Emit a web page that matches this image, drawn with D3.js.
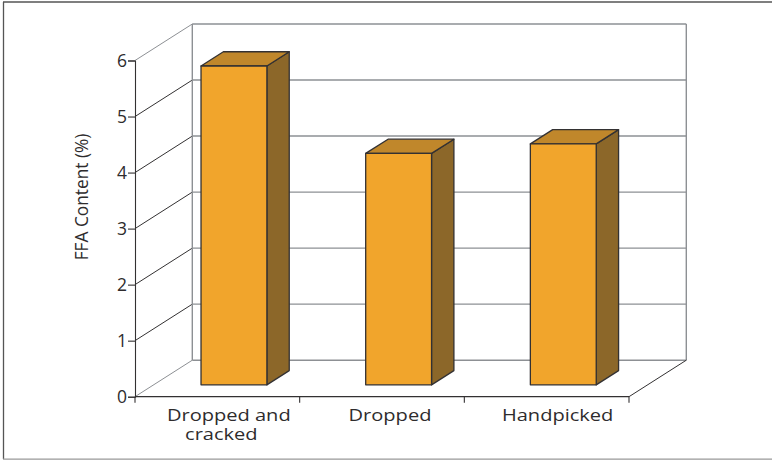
<!DOCTYPE html>
<html><head><meta charset="utf-8">
<script src="https://cdn.jsdelivr.net/npm/d3@7/dist/d3.min.js"></script>
<style>html,body{margin:0;padding:0;background:#fff}svg{display:block}text{font-family:"Open Sans","Noto Sans",sans-serif;fill:#2e2c2d}</style>
</head><body><svg id="c" width="772" height="460"></svg>
<script>
const categories = ["Dropped and|cracked", "Dropped", "Handpicked"];
const values = [5.69, 4.13, 4.30];
const yTicks = [0, 1, 2, 3, 4, 5, 6];
const yLabel = "FFA Content (%)";

const svg = d3.select("#c");
const x = d3.scaleBand().domain(categories).range([135, 629]).paddingInner(0.6).paddingOuter(0.3);
const y = d3.scaleLinear().domain([0, 6]).range([396.7, 60.5]);
const DX = 57.3, DY = -36.5;
const depth0 = 0.325, depthW = 0.39;
const barShift = -2;
const grey = "#8d9094", dark = "#333132";

// frame: top, left and bottom edges only
svg.append("line").attr("x1", 3).attr("x2", 772).attr("y1", 2).attr("y2", 2).attr("stroke", "#555").attr("stroke-width", 1.3);
svg.append("line").attr("x1", 3.5).attr("x2", 3.5).attr("y1", 2).attr("y2", 459).attr("stroke", "#555").attr("stroke-width", 1.3);
svg.append("line").attr("x1", 3).attr("x2", 772).attr("y1", 459.2).attr("y2", 459.2).attr("stroke", "#999").attr("stroke-width", 1.2);

// back wall and floor
const g = svg.append("g").attr("fill", "none");
yTicks.forEach(t => {
  const yy = y(t);
  g.append("line").attr("x1", x.range()[0] + DX).attr("x2", x.range()[1] + DX)
    .attr("y1", yy + DY).attr("y2", yy + DY).attr("stroke", grey).attr("stroke-width", 1.4);
  g.append("line").attr("x1", x.range()[0]).attr("x2", x.range()[0] + DX)
    .attr("y1", yy).attr("y2", yy + DY)
    .attr("stroke", (t === 0 || t === 6) ? grey : dark).attr("stroke-width", 1);
});
g.append("line").attr("x1", x.range()[0] + DX).attr("x2", x.range()[0] + DX)
  .attr("y1", y(0) + DY).attr("y2", y(6) + DY).attr("stroke", grey).attr("stroke-width", 1.4);
g.append("line").attr("x1", x.range()[1] + DX).attr("x2", x.range()[1] + DX)
  .attr("y1", y(0) + DY).attr("y2", y(6) + DY).attr("stroke", grey).attr("stroke-width", 1.4);
g.append("line").attr("x1", x.range()[1]).attr("x2", x.range()[1] + DX)
  .attr("y1", y(0)).attr("y2", y(0) + DY).attr("stroke", dark).attr("stroke-width", 1);

// axes
const yAxis = d3.axisLeft(y).tickValues(yTicks).tickSize(7).tickPadding(1).tickFormat(d3.format("d"));
const ya = svg.append("g").attr("transform", "translate(135,0)").call(yAxis);
ya.selectAll("path,line").attr("stroke", dark).attr("stroke-width", 1.1);
ya.selectAll("text").attr("font-size", 17.5);

const band = x.step();
const xa = svg.append("g");
xa.append("line").attr("x1", 135).attr("x2", 629).attr("y1", y(0)).attr("y2", y(0)).attr("stroke", dark).attr("stroke-width", 1.2);
d3.range(4).forEach(i => {
  xa.append("line").attr("x1", 135 + i * band).attr("x2", 135 + i * band)
    .attr("y1", y(0)).attr("y2", y(0) + 6).attr("stroke", dark).attr("stroke-width", 1.1);
});
const stretch = 1.18;
const labelNudge = [[11.5, 4], [8], [11]];
categories.forEach((c, k) => {
  const cx = x(c) + x.bandwidth() / 2;
  const t = xa.append("text").attr("transform", `translate(0,421) scale(${stretch},1)`)
    .attr("text-anchor", "middle").attr("font-size", 17);
  c.split("|").forEach((ln, i) => {
    t.append("tspan").attr("x", (cx + labelNudge[k][i]) / stretch).attr("dy", i ? 19 : 0).text(ln);
  });
});

// bars
const bars = svg.append("g").attr("stroke", dark).attr("stroke-width", 1.3).attr("stroke-linejoin", "round");
categories.forEach((c, i) => {
  const ox = depth0 * DX + barShift, oy = depth0 * DY;
  const l = x(c) + ox, r = l + x.bandwidth();
  const b = y(0) + oy, t = y(values[i]) + oy;
  const dx = depthW * DX, dy = depthW * DY;
  bars.append("path").attr("fill", "#8c6729")
    .attr("d", d3.line()([[r, t], [r + dx, t + dy], [r + dx, b + dy], [r, b]]) + "Z");
  bars.append("path").attr("fill", "#c0872b")
    .attr("d", d3.line()([[l, t], [l + dx, t + dy], [r + dx, t + dy], [r, t]]) + "Z");
  bars.append("rect").attr("fill", "#f1a52c").attr("x", l).attr("y", t).attr("width", x.bandwidth()).attr("height", b - t);
});

// axis title
svg.append("text").attr("transform", "translate(88,197) rotate(-90)").attr("text-anchor", "middle")
  .attr("font-size", 17.3).text(yLabel);
</script></body></html>
